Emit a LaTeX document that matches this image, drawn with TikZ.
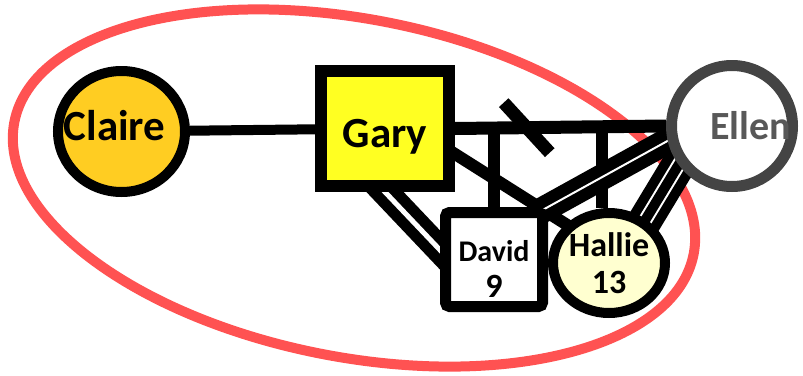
\documentclass[tikz,border=0pt]{standalone}
\usepackage{fontspec}
\setmainfont{Carlito}
\usetikzlibrary{shapes.geometric,calc,backgrounds}

\definecolor{clairegold}{RGB}{255,205,34}
\definecolor{garyyellow}{RGB}{255,255,34}
\definecolor{halliecream}{RGB}{255,255,208}
\definecolor{ringred}{RGB}{255,82,82}
\definecolor{ellengrey}{RGB}{68,68,68}
\definecolor{ellentext}{RGB}{88,88,88}

\tikzset{
  person/.style={draw=black, inner sep=0pt, align=center},
  man/.style={person, rectangle},
  woman/.style={person, ellipse, inner sep=-8pt},
  tie/.style={line width=11pt},
  tucked/.style={shorten <=-14pt, shorten >=-14pt},
  closetie/.style={line width=11pt, double=white, double distance=5pt},
  fusedtie/.style={line width=10pt, double=white, double distance=14pt},
}

\begin{document}
\begin{tikzpicture}[x=1pt, y=-1pt]
    \useasboundingbox (0,0) rectangle (803,375);

    \node[woman, fill=clairegold, line width=10pt, minimum width=127pt, minimum height=121pt, text depth=12pt,
          font=\bfseries\fontsize{43}{43}\selectfont] (claire) at (121.5,131.5) {\makebox[0pt]{Claire\hspace*{14pt}}};
    \node[man, fill=garyyellow, line width=12pt, minimum width=128pt, minimum height=115pt, text height=44pt,
          font=\bfseries\fontsize{43}{43}\selectfont] (gary) at (385,128.5) {Gary};
    \node[man, fill=white, line width=11pt, rounded corners=4pt, minimum width=97pt, minimum height=94pt, text height=75pt,
          font=\bfseries\fontsize{30}{36}\selectfont] (david) at (494,259.5) {David\\{\fontsize{34}{34}\selectfont 9}};
    \node[woman, fill=halliecream, line width=10pt, minimum width=112pt, minimum height=100pt,
          font=\bfseries\fontsize{34}{37}\selectfont] (hallie) at (609,263) {Hallie\\13};
    \node[person, circle, fill=white, draw=ellengrey, text=ellentext, line width=11pt, minimum size=121pt,
          font=\bfseries\fontsize{40}{40}\selectfont] (ellen) at (732,126) {\makebox[0pt][l]{\hspace*{-22pt}Ellen}};

    \coordinate (split) at ($(gary.east)!0.34!(ellen.west)$);

    \begin{scope}[on background layer]
    \draw[ringred, line width=10pt, rotate around={-11:(354,188)}] (354,188) ellipse [x radius=346pt, y radius=169pt];
    \draw[tie, line width=10pt] (claire) -- (gary);
    \draw[tie, line width=13pt] (gary.east) -- (ellen.west);
    \draw[tie, line width=12pt] (david.north) -- (david.north |- gary.east);
    \draw[tie, line width=12pt] ([xshift=-7pt]hallie.north) -- ([xshift=-7pt]hallie.north |- gary.east);
    \draw[tie, line width=13pt] ($(split)+(-23,-25)$) -- ($(split)+(23,25)$);
    \draw[tie, tucked, line width=12pt] (gary.-20) -- (hallie.north west);
    \draw[closetie, tucked] (gary.south) -- (david.170);
    \draw[tucked, line width=12pt, double=white, double distance=2pt] (ellen.193) -- (david.north east);
    \draw[fusedtie, tucked] (ellen.216) -- (hallie.50);
    \draw[tie, tucked, line width=10pt] (ellen.216) -- (hallie.50);
    \end{scope}
\end{tikzpicture}
\end{document}
